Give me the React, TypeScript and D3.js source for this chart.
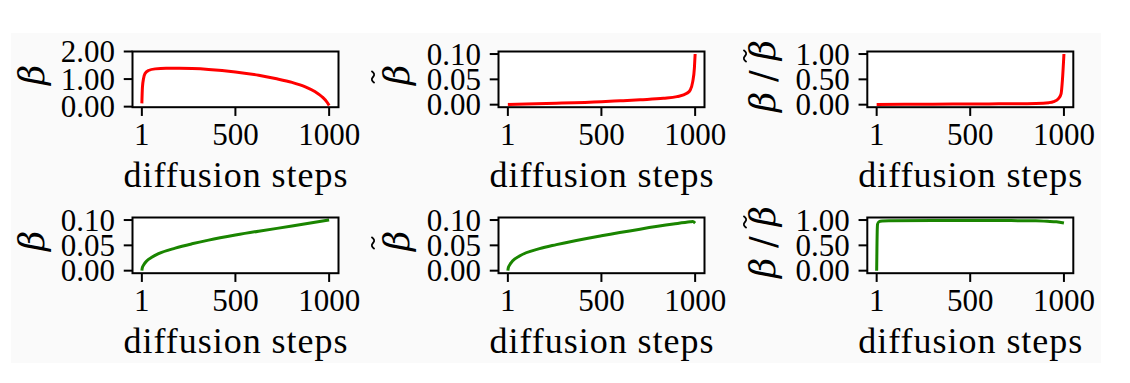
import React from "react";
import * as d3 from "d3";

// ---- data ----
const xTickValues = [1, 500, 1000];
const xLabel = "diffusion steps";

const redBeta: [number, number][] = [
  [1, 0.12], [4, 0.7], [10, 1.02], [18, 1.2], [36, 1.31], [72, 1.37], [130, 1.39],
  [200, 1.39], [270, 1.38], [357, 1.35], [500, 1.26], [624, 1.14], [713, 1.02],
  [802, 0.88], [873, 0.72], [926, 0.54], [962, 0.36], [989, 0.16], [1000, 0.04],
];
const redBetaTilde: [number, number][] = [
  [1, 0.0005], [100, 0.0012], [260, 0.0028], [500, 0.0058], [600, 0.0076], [706, 0.0097],
  [831, 0.0125], [903, 0.0158], [956, 0.0225], [974, 0.029], [987, 0.045], [996, 0.072], [1000, 0.1],
];
const redRatio: [number, number][] = [
  [1, 0.005], [300, 0.01], [600, 0.015], [850, 0.025], [920, 0.04], [945, 0.06],
  [972, 0.125], [985, 0.22], [992, 0.49], [1000, 1.0],
];
const greenBeta: [number, number][] = [
  [1, 0], [3, 0.005], [10, 0.011], [28, 0.0196], [54, 0.0265], [90, 0.0335],
  [179, 0.0445], [268, 0.053], [357, 0.0603], [500, 0.0703], [624, 0.078], [802, 0.088], [1000, 0.1],
];
const greenBetaTilde: [number, number][] = [
  [1, 0], [3, 0.005], [10, 0.011], [27, 0.0195], [63, 0.029], [170, 0.0435],
  [260, 0.0515], [500, 0.069], [706, 0.082], [884, 0.092], [974, 0.0965], [987, 0.097], [1000, 0.094],
];
const greenRatio: [number, number][] = [
  [1, 0], [2, 0.3], [3, 0.6], [4, 0.8], [6, 0.92], [13, 0.966], [30, 0.98], [66, 0.986],
  [300, 0.99], [600, 0.99], [850, 0.985], [910, 0.975], [960, 0.965], [1000, 0.94],
];

const ticksBig = [0, 1, 2];
const ticksSmall = [0, 0.05, 0.1];
const ticksRatio = [0, 0.5, 1];

const RED = "#ff0000";
const GREEN = "#1a8500";

type Panel = {
  data: [number, number][];
  color: string;
  ydom: [number, number];
  yticks: number[];
  label: "b" | "bt" | "ratio";
  col: number;
  row: number;
};

const panels: Panel[] = [
  { data: redBeta, color: RED, ydom: [-0.02, 2.0], yticks: ticksBig, label: "b", col: 0, row: 0 },
  { data: redBetaTilde, color: RED, ydom: [-0.005, 0.105], yticks: ticksSmall, label: "bt", col: 1, row: 0 },
  { data: redRatio, color: RED, ydom: [-0.05, 1.05], yticks: ticksRatio, label: "ratio", col: 2, row: 0 },
  { data: greenBeta, color: GREEN, ydom: [-0.005, 0.105], yticks: ticksSmall, label: "b", col: 0, row: 1 },
  { data: greenBetaTilde, color: GREEN, ydom: [-0.005, 0.105], yticks: ticksSmall, label: "bt", col: 1, row: 1 },
  { data: greenRatio, color: GREEN, ydom: [-0.05, 1.05], yticks: ticksRatio, label: "ratio", col: 2, row: 1 },
];

// ---- layout ----
const colLeft = [132.5, 498.5, 867.3];
const boxW = 206;
const rowTop = [51.5, 217.5];
const boxH = 55.7;
const FONT = "'Liberation Serif', 'Times New Roman', serif";
const GREEK = "'DejaVu Serif', 'Liberation Serif', serif";
const TICK = 8.75;
const PAD = 8.75;

function Tilde({ x, y }: { x: number; y: number }) {
  return (
    <g transform={`translate(${x},${y}) rotate(-90)`}>
      <path d="M-6,1.6 Q-3,-3 0,0 T6,-1.6" fill="none" stroke="#000" strokeWidth={1.8} />
    </g>
  );
}

function PanelView({ p }: { p: Panel }) {
  const x0 = colLeft[p.col];
  const y0 = rowTop[p.row];
  const x = d3.scaleLinear().domain([1 - 49.95, 1000 + 49.95]).range([x0, x0 + boxW]);
  const y = d3.scaleLinear().domain(p.ydom).range([y0 + boxH, y0]);
  const line = d3
    .line<[number, number]>()
    .x((d) => x(d[0]))
    .y((d) => y(d[1]))
    .curve(d3.curveMonotoneX);
  const fmt = d3.format(".2f");
  const dy = p.row * 166;
  const clipId = `clip-${p.col}-${p.row}`;
  return (
    <g>
      <defs>
        <clipPath id={clipId}>
          <rect x={x0} y={y0 - 3} width={boxW} height={boxH + 6} />
        </clipPath>
      </defs>
      <rect x={x0} y={y0} width={boxW} height={boxH} fill="#fff" />
      <path d={line(p.data) || ""} fill="none" stroke={p.color} strokeWidth={3} strokeLinejoin="round" clipPath={`url(#${clipId})`} />
      <rect x={x0} y={y0} width={boxW} height={boxH} fill="none" stroke="#000" strokeWidth={2} />
      {xTickValues.map((t) => (
        <g key={"x" + t}>
          <line x1={x(t)} x2={x(t)} y1={y0 + boxH} y2={y0 + boxH + TICK} stroke="#000" strokeWidth={2} />
          <text x={x(t)} y={y0 + boxH + TICK + PAD + 20.5} textAnchor="middle" fontSize={31} fontFamily={FONT}>
            {t}
          </text>
        </g>
      ))}
      {p.yticks.map((t) => (
        <g key={"y" + t}>
          <line x1={x0 - TICK} x2={x0} y1={y(t)} y2={y(t)} stroke="#000" strokeWidth={2} />
          <text x={x0 - TICK - PAD} y={y(t) + 10.5} textAnchor="end" fontSize={31} fontFamily={FONT}>
            {fmt(t)}
          </text>
        </g>
      ))}
      <text x={x0 + boxW / 2} y={y0 + boxH + 80} textAnchor="middle" fontSize={36} fontFamily={FONT} textLength={224} lengthAdjust="spacing">
        {xLabel}
      </text>
      {p.label === "b" && (
        <text transform={`translate(44,${75 + dy}) rotate(-90)`} textAnchor="middle" fontSize={35} fontFamily={GREEK} fontStyle="italic">
          β
        </text>
      )}
      {p.label === "bt" && (
        <g>
          <text transform={`translate(409,${75 + dy}) rotate(-90)`} textAnchor="middle" fontSize={35} fontFamily={GREEK} fontStyle="italic">
            β
          </text>
          <Tilde x={373} y={77 + dy} />
        </g>
      )}
      {p.label === "ratio" && (
        <g>
          <text transform={`translate(775,${76 + dy}) rotate(-90)`} textAnchor="middle" fontSize={35} fontFamily={GREEK} textLength={72} lengthAdjust="spacing">
            <tspan fontStyle="italic">β</tspan>
            <tspan>/</tspan>
            <tspan fontStyle="italic">β</tspan>
          </text>
          <Tilde x={745} y={56 + dy} />
        </g>
      )}
    </g>
  );
}

export default function App() {
  return (
    <svg width={1130} height={383} style={{ position: "absolute", left: 0, top: 0, background: "#fff" }}>
      <rect x={0} y={0} width={1130} height={383} fill="#fff" />
      <rect x={11} y={33} width={1090} height={330} fill="#fafafa" />
      {panels.map((p, i) => (
        <PanelView key={i} p={p} />
      ))}
    </svg>
  );
}
